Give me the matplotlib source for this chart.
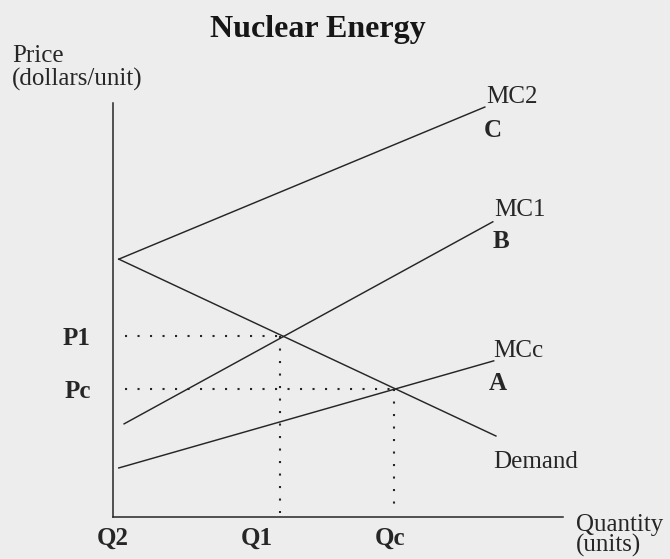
import matplotlib
matplotlib.use('Agg')
import matplotlib.pyplot as plt

# Curve end points in (quantity, price) units
mc2_q = [0.0, 82.4]
mc2_p = [57.3, 91.1]
mc1_q = [1.2, 84.2]
mc1_p = [20.7, 65.6]
mcc_q = [0.0, 84.4]
mcc_p = [10.9, 34.7]
demand_q = [0.0, 84.9]
demand_p = [57.3, 18.0]

# Equilibrium points
q1, p1 = 36.2, 40.2
qc, pc = 62.0, 28.4

# tick labels (the Q labels sit a bit left of the guide lines in the original)
x_label_pos = [-1.3, 31.1, 61.1]
x_tick_labels = ['Q2', 'Q1', 'Qc']
y_ticks = [p1, pc]
y_tick_labels = ['P1', 'Pc']

bg = '#ededed'
ink = '#262626'
fs = 18
plt.rcParams['font.family'] = ['Liberation Serif', 'DejaVu Serif']

fig = plt.figure(figsize=(6.7, 5.59), dpi=100)
fig.patch.set_facecolor(bg)
ax = fig.add_axes([113 / 670, 42 / 559, 450 / 670, 414 / 559])
ax.set_facecolor(bg)
ax.set_xlim(0, 100)
ax.set_ylim(0, 92)

for s in ['top', 'right']:
    ax.spines[s].set_visible(False)
for s in ['left', 'bottom']:
    ax.spines[s].set_color(ink)
    ax.spines[s].set_linewidth(1.1)

lw = 1.05
ax.plot(mc2_q, mc2_p, color=ink, lw=lw)
ax.plot(mc1_q, mc1_p, color=ink, lw=lw)
ax.plot(mcc_q, mcc_p, color=ink, lw=lw)
ax.plot(demand_q, demand_p, color=ink, lw=lw)

# dotted guide lines
dots = dict(color=ink, lw=1.5, linestyle=(0, (1, 5)))
ax.plot([1.5, q1], [p1, p1], **dots)
ax.plot([1.5, qc], [pc, pc], **dots)
ax.plot([q1, q1], [p1, 0.8], **dots)
ax.plot([qc, qc], [pc, 0.8], **dots)

ax.set_xticks(x_label_pos)
ax.set_xticklabels(x_tick_labels, fontsize=fs, fontweight='bold', color=ink)
ax.set_yticks(y_ticks)
ax.set_yticklabels(y_tick_labels, fontsize=fs, fontweight='bold', color=ink)
ax.tick_params(length=0)
ax.tick_params(axis='x', pad=7)
ax.tick_params(axis='y', pad=16)

# curve labels, offsets in pixels from the curve ends
def tag(q, p, text, dx, dy, bold=False):
    ax.annotate(text, (q, p), xytext=(dx * 0.72, dy * 0.72),
                textcoords='offset points', ha='left', va='baseline',
                fontsize=fs, color=ink, annotation_clip=False,
                fontweight='bold' if bold else 'normal')

tag(mc2_q[1], mc2_p[1], 'MC2', 1, 4)
tag(mc2_q[1], mc2_p[1], 'C', -1, -30, bold=True)
tag(mc1_q[1], mc1_p[1], 'MC1', 1, 6)
tag(mc1_q[1], mc1_p[1], 'B', 0, -26, bold=True)
tag(mcc_q[1], mcc_p[1], 'MCc', 0, 4)
tag(mcc_q[1], mcc_p[1], 'A', -5, -29, bold=True)
tag(demand_q[1], demand_p[1], 'Demand', -3, -32)

fig.text(576 / 670, 1 - 531 / 559, 'Quantity', ha='left', va='baseline',
         fontsize=fs, color=ink)
fig.text(576 / 670, 1 - 552 / 559, '(units)', ha='left', va='baseline',
         fontsize=fs, color=ink)
fig.text(12 / 670, 1 - 62 / 559, 'Price', ha='left', va='baseline',
         fontsize=fs, color=ink)
fig.text(12 / 670, 1 - 86 / 559, '(dollars/unit)', ha='left', va='baseline',
         fontsize=fs, color=ink)
fig.text(318 / 670, 1 - 37 / 559, 'Nuclear Energy', ha='center', va='baseline',
         fontsize=23, fontweight='bold', color='#161616')

fig.savefig('out.png', dpi=100, facecolor=bg)
